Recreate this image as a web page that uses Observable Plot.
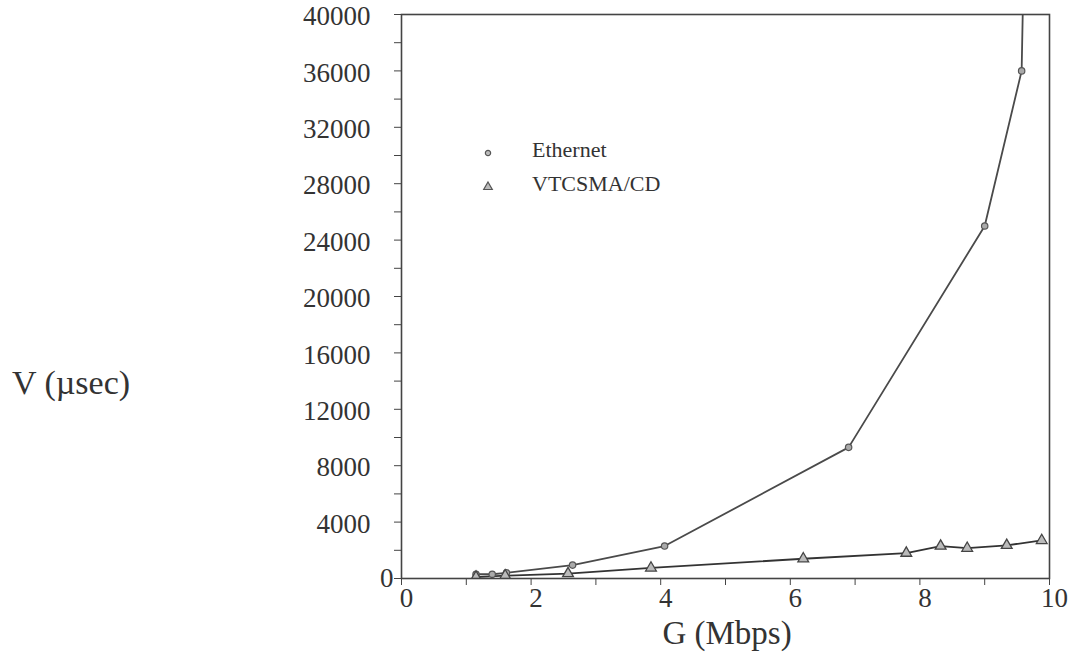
<!DOCTYPE html>
<html><head><meta charset="utf-8">
<script src="https://cdn.jsdelivr.net/npm/d3@7"></script>
<script src="https://cdn.jsdelivr.net/npm/@observablehq/plot@0.6"></script>
<style>
body{margin:0;background:#fff;}
#wrap{position:relative;width:1076px;height:664px;font-family:"Liberation Serif","Times New Roman",serif;color:#333;}
.lab{position:absolute;white-space:nowrap;line-height:1;}
</style></head><body><div id="wrap"></div>
<script>
// Ethernet series (G in Mbps, V in µsec); last point lies above the plotted range
const ethernetG = [1.15, 1.4, 1.62, 2.64, 4.06, 6.9, 9.0, 9.57, 9.62];
const ethernetV = [300, 300, 400, 950, 2300, 9300, 25000, 36000, 48000];
// VTCSMA/CD series
const vtG = [1.15, 1.6, 2.57, 3.85, 6.2, 7.79, 8.32, 8.73, 9.34, 9.88];
const vtV = [100, 200, 350, 750, 1400, 1800, 2300, 2150, 2350, 2700];
// tick labels
const xTickLabels = [0, 2, 4, 6, 8, 10];
const xTicks = [0,1,2,3,4,5,6,7,8,9,10];
const yTickLabels = [4000, 8000, 12000, 16000, 20000, 24000, 28000, 32000, 36000, 40000];
const yTicks = d3.range(0, 40001, 2000);

const ethernet = ethernetG.map((g, i) => ({G: g, V: ethernetV[i]}));
const vt = vtG.map((g, i) => ({G: g, V: vtV[i]}));

const ink = "#444";
const serif = "'Liberation Serif', 'Times New Roman', serif";
const chart = Plot.plot({
  width: 1076, height: 664,
  marginLeft: 401, marginRight: 27, marginTop: 14, marginBottom: 86,
  style: {fontFamily: serif, fontSize: "27px", color: "#333", background: "#fff"},
  x: {domain: [0, 10]},
  y: {domain: [0, 40000]},
  marks: [
    Plot.axisX({ticks: xTicks, tickFormat: () => "", tickSize: 7, stroke: ink, label: null}),
    Plot.axisX({ticks: xTickLabels, tickSize: 0, tickPadding: 9, dx: 5, label: null, fill: "#333", tickFormat: d => String(d)}),
    Plot.axisY({ticks: yTicks, tickFormat: () => "", tickSize: 7, stroke: ink, label: null}),
    Plot.axisY({ticks: yTickLabels, tickSize: 0, tickPadding: 31, dy: 2, label: null, fill: "#333", tickFormat: d => String(d)}),
    Plot.axisY({ticks: [0], tickSize: 0, tickPadding: 8, label: null, fill: "#333", tickFormat: d => String(d)}),
    Plot.line(ethernet, {x: "G", y: "V", stroke: "#4a4a4a", strokeWidth: 1.8, clip: true}),
    Plot.line(vt, {x: "G", y: "V", stroke: "#333", strokeWidth: 1.8, clip: true}),
    Plot.dot(ethernet, {x: "G", y: "V", r: 3.2, fill: "#aaa", stroke: "#555", strokeWidth: 1.2, clip: true}),
    Plot.dot(vt, {x: "G", y: "V", symbol: "triangle", r: 4, fill: "#bbb", stroke: "#444", strokeWidth: 1.3, clip: true}),
    Plot.frame({stroke: ink, strokeWidth: 1.6})
  ]
});
d3.select(chart).selectAll("text, g")
  .style("font-family", serif)
  .style("font-variant", "normal");
const wrap = document.getElementById("wrap");
wrap.appendChild(chart);

function label(text, left, top, size, center) {
  const d = document.createElement("div");
  d.className = "lab";
  d.textContent = text;
  d.style.left = left + "px";
  d.style.top = top + "px";
  d.style.fontSize = size + "px";
  if (center) d.style.transform = "translateX(-50%)";
  wrap.appendChild(d);
}
label("V (\u00b5sec)", 12, 366, 34, false);
label("G (Mbps)", 727, 617, 33, true);

// legend
const legendItems = [
  {name: "Ethernet", symbol: d3.symbolCircle, size: 22, top: 139, cy: 153},
  {name: "VTCSMA/CD", symbol: d3.symbolTriangle, size: 32, top: 173, cy: 187}
];
for (const it of legendItems) {
  const s = d3.select(wrap).append("svg")
    .style("position", "absolute").style("left", "478px").style("top", (it.cy - 10) + "px")
    .attr("width", 20).attr("height", 20);
  s.append("path").attr("d", d3.symbol(it.symbol, it.size)())
    .attr("transform", "translate(10,10)").attr("fill", "#bbb").attr("stroke", "#555").attr("stroke-width", 1.2);
  label(it.name, 532, it.top, 22, false);
}
</script></body></html>
